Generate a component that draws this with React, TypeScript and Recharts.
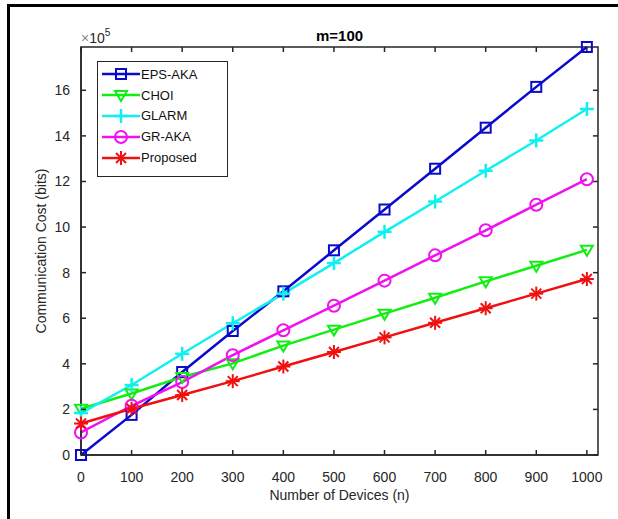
import React from 'react';
import { LineChart, Line, XAxis, YAxis, ReferenceArea, ReferenceLine } from 'recharts';

// communication cost in units of 10^5 bits
const devices = [0, 100, 200, 300, 400, 500, 600, 700, 800, 900, 1000];
const epsAka = [0, 1.76, 3.64, 5.44, 7.18, 8.98, 10.77, 12.56, 14.36, 16.15, 17.9];
const choi = [2.03, 2.7, 3.42, 4.02, 4.8, 5.5, 6.2, 6.9, 7.62, 8.3, 9.0];
const glarm = [1.84, 3.07, 4.44, 5.78, 7.08, 8.42, 9.79, 11.12, 12.47, 13.8, 15.18];
const grAka = [0.99, 2.16, 3.2, 4.38, 5.47, 6.55, 7.65, 8.76, 9.86, 10.98, 12.1];
const proposed = [1.38, 2.03, 2.63, 3.24, 3.88, 4.52, 5.16, 5.8, 6.44, 7.08, 7.72];

const xTicks = [0, 100, 200, 300, 400, 500, 600, 700, 800, 900, 1000];
const yTicks = [0, 2, 4, 6, 8, 10, 12, 14, 16];
const X_MAX = 1022;
const Y_MAX = 17.9;

const data = devices.map((n, i) => ({
  n,
  eps: epsAka[i],
  choi: choi[i],
  glarm: glarm[i],
  gr: grAka[i],
  proposed: proposed[i],
}));

const AXIS = '#262626';
const FONT = 'Liberation Sans, Arial, sans-serif';

type Shape = 'square' | 'tri' | 'plus' | 'circle' | 'star';

const series: { key: string; name: string; color: string; shape: Shape }[] = [
  { key: 'eps', name: 'EPS-AKA', color: '#0a0acc', shape: 'square' },
  { key: 'choi', name: 'CHOI', color: '#11ee11', shape: 'tri' },
  { key: 'glarm', name: 'GLARM', color: '#11f0f0', shape: 'plus' },
  { key: 'gr', name: 'GR-AKA', color: '#f010f0', shape: 'circle' },
  { key: 'proposed', name: 'Proposed', color: '#f01010', shape: 'star' },
];

const Marker = ({ cx, cy, color, shape }: { cx: number; cy: number; color: string; shape: Shape }) => {
  const sw = 2;
  if (shape === 'square')
    return <rect x={cx - 5} y={cy - 5} width={10} height={10} fill="none" stroke={color} strokeWidth={sw} />;
  if (shape === 'circle') return <circle cx={cx} cy={cy} r={6} fill="none" stroke={color} strokeWidth={sw} />;
  if (shape === 'tri')
    return (
      <polygon
        points={`${cx - 6},${cy - 4} ${cx + 6},${cy - 4} ${cx},${cy + 6}`}
        fill="none"
        stroke={color}
        strokeWidth={sw}
      />
    );
  if (shape === 'plus')
    return (
      <g stroke={color} strokeWidth={sw + 0.5}>
        <line x1={cx - 7} x2={cx + 7} y1={cy} y2={cy} />
        <line x1={cx} x2={cx} y1={cy - 7} y2={cy + 7} />
      </g>
    );
  return (
    <g stroke={color} strokeWidth={sw}>
      <line x1={cx - 7} x2={cx + 7} y1={cy} y2={cy} />
      <line x1={cx} x2={cx} y1={cy - 7} y2={cy + 7} />
      <line x1={cx - 5} x2={cx + 5} y1={cy - 5} y2={cy + 5} />
      <line x1={cx - 5} x2={cx + 5} y1={cy + 5} y2={cy - 5} />
    </g>
  );
};

const BottomTick = ({ x, y, payload }: any) => (
  <g>
    <line x1={x} x2={x} y1={y} y2={y - 5} stroke={AXIS} strokeWidth={1.5} />
    <text x={x} y={y + 27} textAnchor="middle" fill={AXIS} fontSize={14} fontFamily={FONT}>
      {payload.value}
    </text>
  </g>
);

const LeftTick = ({ x, y, payload }: any) => (
  <g>
    <line x1={x} x2={x + 5} y1={y} y2={y} stroke={AXIS} strokeWidth={1.5} />
    <text x={x - 11} y={y + 5} textAnchor="end" fill={AXIS} fontSize={14} fontFamily={FONT}>
      {payload.value}
    </text>
  </g>
);

const LegendBox = () => (
  <div
    style={{
      position: 'absolute',
      left: 97,
      top: 61,
      width: 131,
      height: 116,
      border: `1px solid ${AXIS}`,
      background: '#fff',
      boxSizing: 'border-box',
      paddingTop: 2,
    }}
  >
    {series.map((s) => (
      <div key={s.key} style={{ display: 'flex', alignItems: 'center', height: 20.8 }}>
        <svg width={40} height={20} style={{ marginLeft: 3, flex: 'none' }}>
          <line x1={1} x2={39} y1={10} y2={10} stroke={s.color} strokeWidth={2.5} />
          <Marker cx={20} cy={10} color={s.color} shape={s.shape} />
        </svg>
        <span style={{ fontFamily: FONT, fontSize: 13, color: '#111', whiteSpace: 'nowrap' }}>{s.name}</span>
      </div>
    ))}
  </div>
);

// title, axis titles and the figure frame
const Annotations = () => (
  <svg width={618} height={519} style={{ position: 'absolute', left: 0, top: 0, pointerEvents: 'none' }}>
    <path d="M8.5,519 L8.5,5.5 L618,5.5" fill="none" stroke="#000" strokeWidth={3} />
    <text x={339.5} y={41} textAnchor="middle" fill="#000" fontSize={15} fontWeight="bold" fontFamily={FONT}>
      m=100
    </text>
    <text x={81} y={43} fill={AXIS} fontSize={14} fontFamily={FONT}>
      <tspan fill="#888">×</tspan>10
      <tspan dy={-7} fontSize={10}>
        5
      </tspan>
    </text>
    <text x={339.5} y={500} textAnchor="middle" fill={AXIS} fontSize={14} fontFamily={FONT}>
      Number of Devices (n)
    </text>
    <text
      transform="translate(46, 251) rotate(-90)"
      textAnchor="middle"
      fill={AXIS}
      fontSize={14}
      fontFamily={FONT}
    >
      Communication Cost (bits)
    </text>
  </svg>
);

export default function App() {
  return (
    <div style={{ position: 'absolute', left: 0, top: 0, width: 618, height: 519, background: '#fff', overflow: 'hidden' }}>
      <LineChart width={618} height={519} data={data} margin={{ top: 47, right: 20, bottom: 0, left: 0 }}>
        <XAxis
          dataKey="n"
          type="number"
          domain={[0, X_MAX]}
          ticks={xTicks}
          height={64}
          axisLine={{ stroke: AXIS, strokeWidth: 1.5 }}
          tickLine={false}
          tickSize={0}
          tickMargin={0}
          tick={<BottomTick />}
        />
        <YAxis
          type="number"
          domain={[0, Y_MAX]}
          ticks={yTicks}
          width={81}
          axisLine={{ stroke: AXIS, strokeWidth: 1.5 }}
          tickLine={false}
          tickSize={0}
          tickMargin={0}
          tick={<LeftTick />}
        />
        <ReferenceArea x1={0} x2={X_MAX} y1={0} y2={Y_MAX} fill="none" stroke={AXIS} strokeWidth={1.5} />
        {xTicks.map((t) => (
          <ReferenceLine
            key={`tx${t}`}
            segment={[
              { x: t, y: Y_MAX },
              { x: t, y: Y_MAX - 0.22 },
            ]}
            stroke={AXIS}
            strokeWidth={1.5}
          />
        ))}
        {yTicks.map((t) => (
          <ReferenceLine
            key={`ty${t}`}
            segment={[
              { x: X_MAX, y: t },
              { x: X_MAX - 10, y: t },
            ]}
            stroke={AXIS}
            strokeWidth={1.5}
          />
        ))}
        {series.map((s) => (
          <Line
            key={s.key}
            dataKey={s.key}
            name={s.name}
            stroke={s.color}
            strokeWidth={2.5}
            isAnimationActive={false}
            dot={(p: any) => <Marker key={`${s.key}-${p.index}`} cx={p.cx} cy={p.cy} color={s.color} shape={s.shape} />}
          />
        ))}
      </LineChart>
      <Annotations />
      <LegendBox />
    </div>
  );
}
